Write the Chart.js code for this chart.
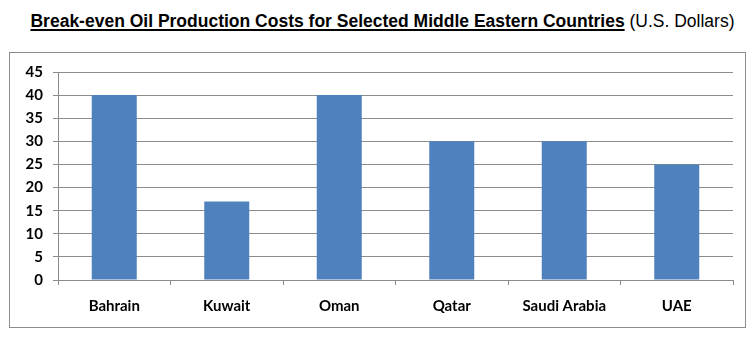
<!DOCTYPE html>
<html>
<head>
<meta charset="utf-8">
<script src="https://cdn.jsdelivr.net/npm/chart.js@4/dist/chart.umd.min.js"></script>
<style>
  body { margin: 0; background: #fff; width: 755px; height: 337px; position: relative; overflow: hidden; }
  #title {
    position: absolute; left: 0; top: 11px; width: 765px; text-align: center;
    font-family: "Liberation Sans", Arial, sans-serif; font-size: 17.5px; color: #000;
    white-space: nowrap;
  }
  #title b { text-decoration: underline; text-decoration-thickness: 2px; text-underline-offset: 2px; }
  #box {
    position: absolute; left: 9px; top: 52px; width: 735px; height: 274px;
    border: 1px solid #8c8c8c;
  }
</style>
</head>
<body>
<div id="title"><b>Break-even Oil Production Costs for Selected Middle Eastern Countries</b> (U.S. Dollars)</div>
<div id="box"><canvas id="costChart" width="735" height="274"></canvas></div>
<script>
// countries and their break-even cost per barrel
var countries = ['Bahrain', 'Kuwait', 'Oman', 'Qatar', 'Saudi Arabia', 'UAE'];
var breakEven = [40, 17, 40, 30, 30, 25];
var yTicks = [0, 5, 10, 15, 20, 25, 30, 35, 40, 45];

var ctx = document.getElementById('costChart').getContext('2d');

var chart = new Chart(ctx, {
  type: 'bar',
  data: {
    labels: countries,
    datasets: [{
      label: 'Break-even cost',
      data: breakEven,
      backgroundColor: '#4f81bd',
      categoryPercentage: 1,
      barPercentage: 0.4
    }]
  },
  options: {
    responsive: false,
    animation: false,
    layout: { padding: { top: 18, right: 12, left: 0, bottom: 0 } },
    plugins: { legend: { display: false }, tooltip: { enabled: false } },
    scales: {
      x: {
        grid: { offset: true, drawOnChartArea: false, drawTicks: true, tickLength: 5, color: '#8c8c8c' },
        border: { display: false },
        ticks: { color: '#000', padding: 12, font: { family: 'Lato', weight: 'bold', size: 15 } },
        afterFit: function(scale) { scale.height = 47; }
      },
      y: {
        min: 0,
        max: 45,
        afterBuildTicks: function(scale) {
          scale.ticks = yTicks.map(function(v) { return { value: v }; });
        },
        grid: { color: '#8c8c8c', tickLength: 5 },
        border: { color: '#8c8c8c' },
        ticks: { color: '#000', padding: 10, font: { family: 'Lato', weight: 'bold', size: 15 } },
        afterFit: function(scale) { scale.width = 48; }
      }
    }
  }
});
</script>
</body>
</html>
